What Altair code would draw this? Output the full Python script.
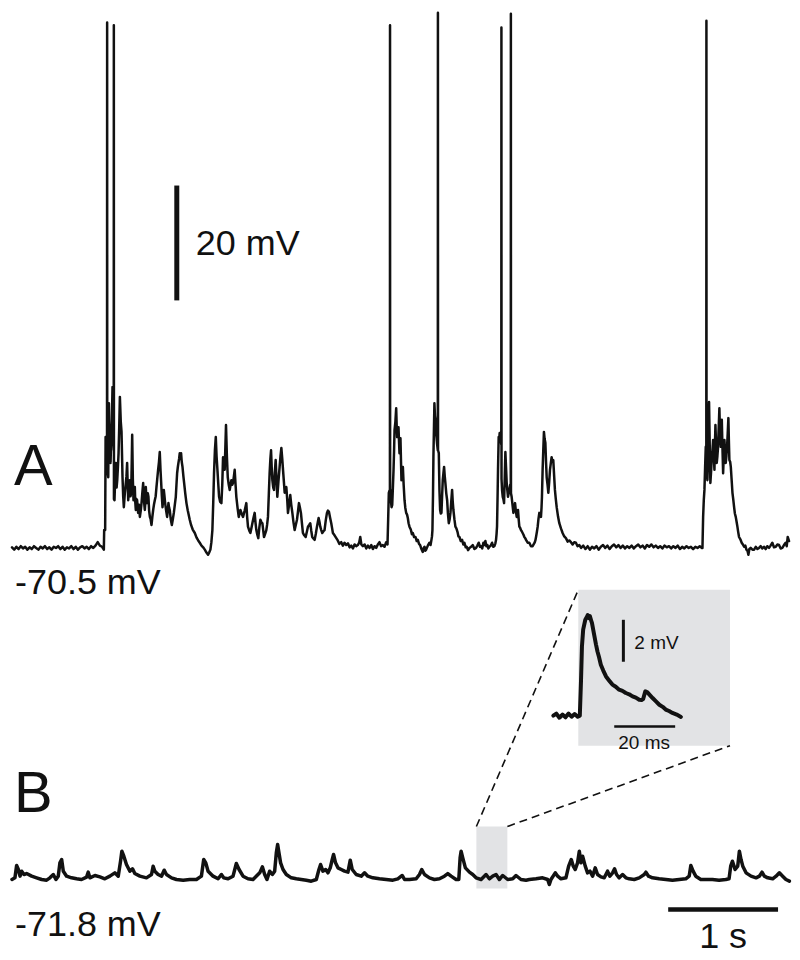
import altair as alt
import pandas as pd

W, H = 784, 944

# ---------------- data ----------------
# Trace A: time (s), deflection (mV) from the resting level (-70.5 mV)
A_REST_1 = [(0.00,0.1),(0.02,-0.3),(0.04,0.2),(0.06,-0.2),(0.08,0.3),(0.10,-0.1),(0.12,0.2),(0.14,-0.3),
            (0.16,0.1),(0.18,-0.2),(0.20,0.3),(0.22,0.0),(0.24,-0.3),(0.26,0.2),(0.28,-0.1),(0.30,0.3),
            (0.32,-0.2),(0.34,0.1),(0.36,-0.3),(0.38,0.2),(0.40,0.0),(0.42,0.3),(0.44,-0.2),(0.46,0.2),
            (0.48,-0.3),(0.50,0.1),(0.52,-0.1),(0.54,0.3),(0.56,-0.2),(0.58,0.2),(0.60,-0.3),(0.62,0.1),
            (0.64,0.3),(0.66,-0.1),(0.68,0.2),(0.70,-0.2),(0.72,0.3),(0.74,0.0),(0.76,0.4),(0.78,1.0),
            (0.80,0.4),(0.82,0.2)]
A_BURSTS_1 = [(0.836,-0.3),(0.839,3.1),(0.848,3.1),(0.852,19.3),(0.858,16.0),(0.861,17.0),(0.865,18.0),(0.866,91.5),
    (0.867,16.0),(0.872,13.0),(0.876,12.3),(0.882,25.2),(0.887,18.0),(0.891,16.5),(0.897,14.8),(0.903,19.0),
    (0.909,22.3),(0.915,28.0),(0.921,19.3),(0.926,17.0),(0.927,91.0),(0.928,8.5),(0.933,8.3),(0.939,12.0),
    (0.945,14.8),(0.952,10.5),(0.958,11.8),(0.964,14.0),(0.970,16.5),(0.976,21.0),(0.982,26.3),(0.990,22.0),
    (0.997,20.2),(1.006,12.3),(1.012,9.0),(1.018,7.1),(1.027,9.5),(1.036,11.3),(1.042,12.5),(1.048,14.8),
    (1.053,11.0),(1.058,8.3),(1.064,10.0),(1.073,11.8),(1.079,9.0),(1.085,9.6),(1.090,15.0),(1.094,19.7),
    (1.100,12.0),(1.106,8.3),(1.112,9.5),(1.118,10.6),(1.122,8.0),(1.127,6.6),(1.133,8.5),(1.139,8.3),
    (1.144,7.0),(1.148,6.1),(1.156,7.5),(1.164,5.4),(1.172,6.5),(1.179,7.8),(1.186,9.5),(1.194,11.3),
    (1.200,8.5),(1.209,6.6),(1.214,8.0),(1.218,10.6),(1.224,8.5),(1.230,7.8),(1.236,9.5),(1.242,8.9),
    (1.248,6.5),(1.255,5.4),(1.262,5.0),(1.270,4.0),(1.278,5.5),(1.285,6.6),(1.292,7.5),(1.300,8.3),
    (1.308,9.0),(1.315,10.6),(1.322,12.0),(1.330,13.6),(1.338,15.0),(1.345,16.7),(1.352,13.5),(1.358,11.3),
    (1.364,9.0),(1.370,7.1),(1.376,8.5),(1.382,10.1),(1.388,9.0),(1.394,7.8),(1.403,6.5),(1.412,5.4),
    (1.418,6.5),(1.424,7.8),(1.430,7.0),(1.436,6.6),(1.445,5.0),(1.455,4.0),(1.464,5.0),(1.473,6.1),
    (1.482,7.5),(1.491,8.9),(1.497,11.0),(1.503,13.0),(1.509,14.0),(1.515,14.8),(1.521,15.5),(1.527,16.5),
    (1.533,15.5),(1.539,16.5),(1.545,15.0),(1.552,14.1),(1.560,12.5),(1.567,11.3),(1.577,9.5),(1.588,7.8),
    (1.600,6.5),(1.618,4.9),(1.630,4.0),(1.645,3.2),(1.664,2.6),(1.680,1.8),(1.695,1.3),(1.709,0.9),
    (1.725,0.4),(1.740,0.1),(1.755,-0.3),(1.770,-0.8),(1.785,-1.2),(1.795,-0.8),(1.806,-0.3),(1.815,1.0),
    (1.824,3.1),(1.832,8.0),(1.839,13.0),(1.847,17.0),(1.855,19.3),(1.862,16.0),(1.870,13.6),(1.878,11.0),
    (1.885,8.9),(1.895,8.0),(1.906,7.8),(1.914,11.0),(1.921,15.8),(1.928,14.5),(1.936,13.6),(1.942,17.5),
    (1.948,21.4),(1.956,16.0),(1.964,12.3),(1.973,11.0),(1.982,10.1),(1.990,11.0),(1.997,11.8),(2.005,11.0),
    (2.012,11.3),(2.020,12.5),(2.027,13.6),(2.035,11.0),(2.042,8.9),(2.053,7.0),(2.064,5.4),(2.072,6.0),
    (2.079,6.6),(2.090,6.0),(2.103,5.4),(2.118,6.5),(2.133,7.8),(2.140,5.5),(2.148,3.7),(2.160,3.0),
    (2.170,2.6),(2.180,3.5),(2.188,4.3),(2.198,5.2),(2.209,6.1),(2.216,4.5),(2.224,3.1),(2.233,2.3),
    (2.242,1.7),(2.251,3.5),(2.261,4.9),(2.270,4.5),(2.279,4.3),(2.287,3.0),(2.294,1.9),(2.305,2.5),
    (2.315,3.1),(2.322,4.0),(2.330,5.4),(2.338,9.5),(2.345,13.0),(2.352,15.5),(2.358,17.0),(2.364,14.0),
    (2.370,11.8),(2.378,10.5),(2.385,10.1),(2.392,13.0),(2.400,15.3),(2.408,12.0),(2.415,8.9),(2.425,11.5),
    (2.436,14.1),(2.444,16.0),(2.452,17.4),(2.460,15.5),(2.467,13.6),(2.475,11.5),(2.482,9.6),(2.490,10.0),
    (2.497,10.6),(2.505,8.5),(2.512,6.1),(2.522,7.5),(2.533,9.2),(2.542,7.5),(2.552,6.1),(2.562,4.5),
    (2.573,3.1),(2.583,4.0),(2.594,4.9),(2.603,6.3),(2.612,7.8),(2.621,7.0),(2.630,6.1),(2.639,4.3),
    (2.648,2.6),(2.660,2.2),(2.673,1.9),(2.684,2.8),(2.694,3.7),(2.705,4.0),(2.715,4.3),(2.724,3.0),
    (2.733,1.9),(2.745,1.6),(2.755,1.4),(2.766,2.5),(2.776,3.7),(2.784,4.5),(2.791,5.2),(2.799,4.5),
    (2.806,3.7),(2.815,3.1),(2.824,2.6),(2.835,2.9),(2.845,3.1),(2.856,4.8),(2.867,6.1),(2.876,6.5),
    (2.885,6.3),(2.895,5.3),(2.906,4.3),(2.914,3.4),(2.921,2.6),(2.936,2.2),(2.952,1.7),(2.965,1.3),
    (2.980,0.7),(2.997,1.0),(3.012,0.4),(3.027,0.9),(3.042,0.5),(3.058,0.8),(3.073,0.1),(3.088,0.4),
    (3.103,-0.1),(3.118,0.6),(3.133,0.3),(3.148,0.5),(3.160,0.9),(3.170,1.9),(3.180,0.6),(3.194,0.3),
    (3.210,0.6),(3.225,-0.1),(3.240,0.4),(3.255,0.0),(3.270,0.5),(3.285,-0.2),(3.300,0.3),(3.315,0.0),
    (3.330,0.6),(3.345,1.0),(3.360,0.3),(3.376,0.5),(3.391,0.2),(3.406,1.0),(3.418,0.6)]
A_BURSTS_2 = [(3.424,4.9),(3.430,9.6),(3.436,10.0),(3.440,10.0),(3.441,91.0),(3.442,9.0),(3.445,10.1),(3.450,8.0),
    (3.455,7.1),(3.461,7.5),(3.467,10.5),(3.473,13.6),(3.478,17.0),(3.482,20.5),(3.490,22.0),(3.497,24.3),
    (3.502,21.0),(3.506,19.3),(3.512,20.0),(3.518,21.0),(3.523,18.5),(3.527,16.5),(3.532,18.0),(3.536,19.1),
    (3.541,15.0),(3.545,11.8),(3.552,13.0),(3.558,14.1),(3.565,11.0),(3.573,8.3),(3.580,7.0),(3.588,6.1),
    (3.596,5.8),(3.603,5.2),(3.610,4.3),(3.618,3.7),(3.630,3.2),(3.640,2.4),(3.648,2.6),(3.660,1.9),
    (3.673,1.9),(3.684,1.2),(3.694,1.4),(3.705,0.7),(3.715,0.5),(3.727,-0.2),(3.739,-0.7),(3.748,0.0),
    (3.755,0.2),(3.762,-0.5),(3.770,-0.3),(3.785,0.4),(3.800,0.9),(3.810,0.5),(3.818,1.4),(3.823,2.0),
    (3.827,3.1),(3.832,9.0),(3.836,15.8),(3.841,21.0),(3.845,25.2),(3.850,23.0),(3.855,22.3),(3.860,20.0),
    (3.864,19.3),(3.870,18.0),(3.876,17.0),(3.877,93.2),(3.878,17.0),(3.885,16.5),(3.891,10.0),(3.897,6.6),
    (3.903,6.0),(3.909,6.1),(3.915,9.0),(3.921,11.8),(3.927,13.0),(3.933,14.1),(3.939,12.5),(3.945,11.3),
    (3.953,9.5),(3.961,8.3),(3.968,6.0),(3.976,4.3),(3.984,5.0),(3.991,6.1),(3.998,8.0),(4.006,10.1),
    (4.012,8.0),(4.018,6.6),(4.027,5.0),(4.036,3.7),(4.045,3.4),(4.055,2.8),(4.064,2.0),(4.073,1.9),
    (4.085,1.2),(4.097,1.4),(4.108,0.6),(4.118,0.9),(4.130,0.1),(4.139,0.2),(4.152,-0.4),(4.164,0.0),
    (4.179,0.2),(4.194,0.5),(4.209,-0.2),(4.224,0.0),(4.236,0.4),(4.248,0.9),(4.260,0.2),(4.270,0.3),
    (4.280,-0.1),(4.291,0.9),(4.300,0.5),(4.309,1.2),(4.318,0.3),(4.327,0.5),(4.336,-0.1),(4.345,0.2),
    (4.358,0.4),(4.370,0.9),(4.380,0.2),(4.391,0.3),(4.400,0.8),(4.406,1.4),(4.411,2.5),(4.415,3.7),
    (4.420,9.0),(4.424,13.6),(4.430,19.3),(4.435,19.0),(4.439,20.0),(4.444,19.5),(4.448,18.8),(4.454,18.0),
    (4.455,90.6),(4.456,12.0),(4.461,10.0),(4.467,8.9),(4.473,8.5),(4.479,7.8),(4.485,12.0),(4.491,16.7),
    (4.497,14.0),(4.503,11.3),(4.509,10.0),(4.515,8.9),(4.521,9.5),(4.527,10.1),(4.535,11.0),(4.540,10.5),
    (4.541,93.0),(4.542,9.5),(4.548,8.9),(4.556,7.5),(4.564,6.1),(4.571,7.0),(4.579,7.8),(4.586,6.5),
    (4.594,5.4),(4.600,6.0),(4.606,6.6),(4.612,5.0),(4.618,3.7),(4.625,3.5),(4.633,3.1),(4.640,2.9),
    (4.648,2.6),(4.656,2.3),(4.664,1.9),(4.672,1.7),(4.679,1.4),(4.694,0.9),(4.709,0.9),(4.724,0.3),
    (4.739,0.3),(4.748,0.6),(4.757,0.9),(4.764,1.3),(4.770,1.9),(4.778,2.8),(4.785,3.7),(4.792,5.0),
    (4.800,6.1),(4.808,5.8),(4.815,5.4),(4.820,7.0),(4.824,8.9),(4.830,13.6),(4.836,17.0),(4.842,20.2),
    (4.848,19.0),(4.855,18.3),(4.861,15.0),(4.867,12.3),(4.875,11.0),(4.882,9.6),(4.890,11.5),(4.897,13.6),
    (4.905,14.8),(4.912,15.8),(4.920,15.0),(4.927,15.3),(4.935,12.5),(4.942,10.1),(4.950,8.5),(4.958,7.1),
    (4.970,5.5),(4.982,4.3),(4.997,3.4),(5.012,2.6),(5.027,2.0),(5.042,1.7),(5.058,1.1),(5.073,1.3),
    (5.088,1.0),(5.103,0.6),(5.118,1.0),(5.133,0.9),(5.148,0.3),(5.164,0.5)]
A_REST_2 = [(5.18,0.0),(5.20,0.4),(5.22,-0.2),(5.24,0.3),(5.26,-0.3),(5.28,0.2),(5.30,-0.1),(5.32,0.3),
            (5.34,-0.3),(5.36,0.2),(5.38,0.5),(5.40,0.0),(5.42,0.4),(5.44,-0.2),(5.46,0.3),(5.48,0.6),
            (5.50,0.1),(5.52,0.5),(5.54,0.0),(5.56,0.4),(5.58,-0.1),(5.60,0.3),(5.62,0.0),(5.64,0.4),
            (5.66,-0.1),(5.68,0.3),(5.70,0.6),(5.72,0.1),(5.74,0.4),(5.76,-0.1),(5.78,0.5),(5.80,0.2),
            (5.82,0.6),(5.84,0.1),(5.86,0.4),(5.88,0.0),(5.90,0.3),(5.92,-0.1),(5.94,0.4),(5.96,0.1),
            (5.98,0.3),(6.00,-0.1),(6.02,0.3),(6.04,0.0),(6.06,0.4),(6.08,-0.2),(6.10,0.2),(6.12,-0.1),
            (6.14,0.3),(6.16,0.0),(6.18,0.2),(6.20,-0.2),(6.22,0.2),(6.24,0.0),(6.26,0.3),(6.28,0.0)]
A_BURST_3 = [(6.285,0.0),(6.291,5.4),(6.297,8.3),(6.303,10.1),(6.309,14.0),(6.315,17.6),(6.320,17.0),(6.321,91.8),
    (6.322,14.0),(6.330,11.8),(6.339,17.6),(6.345,25.4),(6.351,18.0),(6.357,11.3),(6.364,13.5),(6.370,15.8),
    (6.376,17.0),(6.382,18.8),(6.388,16.0),(6.394,13.6),(6.398,17.5),(6.403,21.4),(6.409,18.0),(6.415,14.8),
    (6.421,16.0),(6.427,17.6),(6.433,21.0),(6.439,24.3),(6.445,20.0),(6.452,17.6),(6.456,20.0),(6.461,22.3),
    (6.467,17.5),(6.473,13.0),(6.479,16.0),(6.485,18.8),(6.491,16.5),(6.497,14.8),(6.503,16.0),(6.509,17.6),
    (6.515,20.0),(6.521,22.6),(6.525,19.0),(6.530,15.3),(6.537,15.0),(6.543,14.1),(6.550,12.0),(6.558,9.6),
    (6.565,8.5),(6.573,7.1),(6.580,6.0),(6.588,5.4),(6.596,4.5),(6.603,3.7),(6.610,2.8),(6.618,1.9),
    (6.630,1.5),(6.642,0.9),(6.653,0.6),(6.664,0.2),(6.675,0.4),(6.685,-0.3),(6.695,-0.5),(6.703,-1.2),
    (6.712,-0.2),(6.724,0.0),(6.740,-0.3),(6.755,-0.3),(6.770,0.2),(6.785,-0.2),(6.800,0.0),(6.815,0.3),
    (6.830,-0.1),(6.845,0.2),(6.860,-0.2),(6.875,0.3),(6.891,0.0),(6.905,0.4),(6.921,0.9),(6.936,0.1),
    (6.952,0.2),(6.967,0.6),(6.982,0.5),(6.997,-0.1),(7.012,0.0),(7.027,0.5),(7.042,0.9),(7.052,0.3),
    (7.061,1.9),(7.073,1.2)]

# Trace B: time (s), deflection (mV) from the resting level (-71.8 mV)
B_TRACE = [(0.000,0.0),(0.027,0.29),(0.042,2.44),(0.058,1.74),(0.073,0.58),(0.088,1.45),(0.109,0.87),(0.133,1.04),
    (0.179,0.58),(0.224,0.29),(0.270,0.0),(0.315,-0.12),(0.345,0.29),(0.376,0.87),(0.400,0.0),(0.421,0.58),
    (0.436,2.9),(0.452,3.48),(0.467,1.45),(0.497,0.58),(0.542,0.29),(0.588,0.12),(0.633,0.0),(0.679,0.41),
    (0.694,1.28),(0.709,0.29),(0.755,0.70),(0.800,0.46),(0.845,0.12),(0.891,0.58),(0.936,1.16),(0.967,0.58),
    (0.988,3.19),(1.000,4.93),(1.018,4.06),(1.042,2.61),(1.073,1.45),(1.097,1.86),(1.118,1.04),(1.164,0.58),
    (1.224,0.29),(1.270,0.87),(1.285,2.32),(1.300,1.45),(1.330,0.87),(1.361,0.58),(1.385,1.62),(1.406,0.87),
    (1.452,0.29),(1.497,0.0),(1.558,-0.12),(1.618,0.0),(1.679,0.0),(1.724,0.58),(1.745,3.48),(1.764,2.9),
    (1.785,1.45),(1.830,0.58),(1.876,0.12),(1.906,0.87),(1.927,0.29),(1.967,0.12),(2.012,0.58),(2.042,2.78),
    (2.067,1.74),(2.103,0.58),(2.148,0.12),(2.194,0.0),(2.255,1.16),(2.279,2.2),(2.300,0.87),(2.321,0.0),
    (2.345,1.45),(2.370,0.87),(2.391,1.45),(2.406,4.64),(2.418,6.09),(2.430,4.64),(2.445,2.9),(2.467,1.74),
    (2.497,0.87),(2.542,0.29),(2.588,0.12),(2.633,0.0),(2.679,-0.12),(2.724,-0.29),(2.770,0.0),(2.794,1.74),
    (2.809,2.61),(2.830,1.45),(2.855,1.74),(2.876,1.16),(2.897,2.03),(2.915,3.48),(2.927,4.35),(2.945,2.9),
    (2.967,2.03),(2.997,1.74),(3.027,1.45),(3.058,1.28),(3.079,3.36),(3.097,1.74),(3.133,0.87),(3.179,0.58),
    (3.209,1.16),(3.239,0.58),(3.285,0.29),(3.345,0.12),(3.406,0.0),(3.467,-0.12),(3.512,0.12),(3.552,0.70),
    (3.573,0.0),(3.618,0.0),(3.679,0.12),(3.709,0.87),(3.730,1.74),(3.755,0.87),(3.800,0.29),(3.845,0.0),
    (3.891,0.12),(3.936,0.58),(3.967,1.04),(3.997,0.58),(4.042,0.0),(4.067,0.0),(4.079,3.77),(4.088,4.93),
    (4.103,3.77),(4.127,2.03),(4.164,1.28),(4.194,0.87),(4.224,0.29),(4.270,0.0),(4.315,0.87),(4.345,0.12),
    (4.376,0.58),(4.406,0.87),(4.436,0.0),(4.467,0.70),(4.512,0.0),(4.558,0.12),(4.588,0.70),(4.633,0.0),
    (4.679,-0.12),(4.709,0.0),(4.770,0.12),(4.830,0.29),(4.876,0.0),(4.891,-0.87),(4.906,0.0),(4.945,1.16),
    (4.967,0.58),(4.997,0.12),(5.042,0.29),(5.067,2.32),(5.091,3.48),(5.109,2.32),(5.127,1.74),(5.148,2.9),
    (5.164,4.93),(5.179,2.9),(5.194,4.06),(5.218,2.32),(5.239,1.16),(5.261,1.45),(5.285,0.58),(5.309,2.03),
    (5.330,0.87),(5.361,0.46),(5.391,0.29),(5.421,1.45),(5.442,0.58),(5.467,1.16),(5.485,1.86),(5.503,0.87),
    (5.527,0.29),(5.558,0.87),(5.588,0.29),(5.618,0.12),(5.664,0.0),(5.709,0.29),(5.755,0.87),(5.770,1.28),
    (5.794,0.58),(5.830,0.29),(5.891,0.12),(5.952,0.0),(6.012,-0.12),(6.073,0.0),(6.133,0.12),(6.164,0.58),
    (6.179,2.44),(6.200,1.45),(6.224,0.58),(6.270,0.0),(6.315,0.0),(6.376,0.0),(6.436,-0.12),(6.497,0.0),
    (6.527,0.12),(6.542,2.32),(6.558,3.19),(6.582,1.74),(6.606,2.32),(6.621,4.93),(6.636,3.48),(6.652,2.32),
    (6.682,1.16),(6.727,0.58),(6.773,0.29),(6.803,0.58),(6.827,1.28),(6.848,0.58),(6.879,0.29),(6.924,0.12),
    (6.955,0.58),(6.985,1.16),(7.015,0.58),(7.045,0.0),(7.076,-0.29)]

# Inset: one event, time (ms), deflection (mV)
INSET = [(0.0,0.0),(1.0,0.1),(2.0,-0.1),(3.0,0.05),(4.0,-0.08),(5.0,0.1),(6.0,-0.05),(7.0,0.08),(8.0,-0.05),
         (8.7,0.0),(9.1,1.7),(9.4,3.3),(9.8,4.1),(10.5,4.57),(11.0,4.7),(11.3,4.8),(11.7,4.65),(12.0,4.75),
         (12.4,4.55),(12.7,4.41),(13.4,3.86),(14.0,3.4),(14.5,3.06),(15.0,2.8),(15.6,2.43),(16.4,2.15),
         (17.3,1.87),(18.3,1.68),(19.4,1.48),(20.5,1.38),(21.6,1.24),(22.7,1.18),(23.8,1.08),(24.9,1.02),
         (26.0,0.92),(27.1,0.86),(28.2,0.76),(29.0,0.75),(29.5,0.79),(30.2,1.16),(30.9,1.11),(31.7,0.98),
         (32.6,0.84),(33.7,0.68),(34.8,0.52),(35.9,0.42),(36.9,0.29),(38.0,0.22),(39.1,0.13),(40.5,0.05),
         (41.9,-0.06)]

ZOOM_BOX_B = {"t0": 4.227, "t1": 4.509, "v0": -1.57, "v1": 9.22}      # s, mV (trace B)
INSET_BOX = {"t0": 8.2, "t1": 58.0, "v0": -1.43, "v1": 6.0}           # ms, mV (inset)

BAR_20MV = {"t": 1.5, "v0": 43.1, "v1": 63.1}          # trace A units
BAR_1S = {"t0": 5.973, "t1": 6.973, "v": -5.22}        # trace B units
BAR_2MV = {"t": 23.0, "v0": 2.57, "v1": 4.57}          # inset units
BAR_20MS = {"t0": 20.0, "t1": 40.0, "v": -0.52}        # inset units

# ---------------- scales ----------------
XA = [-0.0364, 7.0909]
YA = [-70.26, 93.91]
YB = [-12.52, 151.65]
XI = [-179.02, 78.03]
YI = [-11.24, 33.71]

FONT = "Liberation Sans"
INK = "#111111"
BOXC = "#e2e3e5"


def sx(dom):
    return alt.Scale(domain=dom, nice=False, zero=False)


def xpx(v, dom):
    return (v - dom[0]) / (dom[1] - dom[0]) * W


def ypx(v, dom):
    return (dom[1] - v) / (dom[1] - dom[0]) * H


def x_from_px(p, dom):
    return dom[0] + p / W * (dom[1] - dom[0])


def y_from_px(p, dom):
    return dom[1] - p / H * (dom[1] - dom[0])


def trace_df(points):
    return pd.DataFrame({"i": range(len(points)), "t": [p[0] for p in points], "v": [p[1] for p in points]})


a_points = A_REST_1 + A_BURSTS_1 + A_BURSTS_2 + A_REST_2 + A_BURST_3
dfA = trace_df(a_points)
dfB = trace_df(B_TRACE)
dfI = trace_df(INSET)


def line_layer(df, xd, yd, width):
    return alt.Chart(df).mark_line(color=INK, strokeWidth=width, strokeJoin="round", strokeCap="round").encode(
        x=alt.X("t:Q", scale=sx(xd), axis=None),
        y=alt.Y("v:Q", scale=sx(yd), axis=None),
        order="i:Q",
    )


def rect_layer(box, xd, yd):
    return alt.Chart(pd.DataFrame([box])).mark_rect(color=BOXC).encode(
        x=alt.X("t0:Q", scale=sx(xd), axis=None), x2="t1:Q",
        y=alt.Y("v0:Q", scale=sx(yd), axis=None), y2="v1:Q",
    )


def vbar(bar, xd, yd, width):
    return alt.Chart(pd.DataFrame([bar])).mark_rule(color=INK, strokeWidth=width).encode(
        x=alt.X("t:Q", scale=sx(xd), axis=None),
        y=alt.Y("v0:Q", scale=sx(yd), axis=None), y2="v1:Q",
    )


def hbar(bar, xd, yd, width):
    return alt.Chart(pd.DataFrame([bar])).mark_rule(color=INK, strokeWidth=width).encode(
        x=alt.X("t0:Q", scale=sx(xd), axis=None), x2="t1:Q",
        y=alt.Y("v:Q", scale=sx(yd), axis=None),
    )


def text_layer(label, t, v, xd, yd, size, align="left", baseline="alphabetic"):
    return alt.Chart(pd.DataFrame([{"t": t, "v": v, "s": label}])).mark_text(
        font=FONT, fontSize=size, color=INK, align=align, baseline=baseline
    ).encode(
        x=alt.X("t:Q", scale=sx(xd), axis=None),
        y=alt.Y("v:Q", scale=sx(yd), axis=None),
        text="s:N",
    )


# dashed connectors: zoom box corners (trace B units) -> inset box corners (inset units)
def b_to_inset(t, v):
    return x_from_px(xpx(t, XA), XI), y_from_px(ypx(v, YB), YI)


p1 = b_to_inset(ZOOM_BOX_B["t0"], ZOOM_BOX_B["v1"])
p2 = b_to_inset(ZOOM_BOX_B["t1"], ZOOM_BOX_B["v1"])
dash_df = pd.DataFrame([
    {"t": p1[0], "v": p1[1], "t2": INSET_BOX["t0"], "v2": INSET_BOX["v1"]},
    {"t": p2[0], "v": p2[1], "t2": INSET_BOX["t1"], "v2": INSET_BOX["v0"]},
])
dashes = alt.Chart(dash_df).mark_rule(color=INK, strokeWidth=1.6, strokeDash=[8, 5]).encode(
    x=alt.X("t:Q", scale=sx(XI), axis=None), x2="t2:Q",
    y=alt.Y("v:Q", scale=sx(YI), axis=None), y2="v2:Q",
)

layers = [
    rect_layer(ZOOM_BOX_B, XA, YB),
    rect_layer(INSET_BOX, XI, YI),
    dashes,
    line_layer(dfA, XA, YA, 2.5),
    line_layer(dfB, XA, YB, 3.5),
    line_layer(dfI, XI, YI, 4.0),
    vbar(BAR_20MV, XA, YA, 5),
    hbar(BAR_1S, XA, YB, 4.5),
    vbar(BAR_2MV, XI, YI, 3),
    hbar(BAR_20MS, XI, YI, 2.5),
    text_layer("A", 0.018, 10.96, XA, YA, 58),
    text_layer("-70.5 mV", 0.027, -8.0, XA, YA, 36),
    text_layer("20 mV", 1.673, 52.9, XA, YA, 36, baseline="middle"),
    text_layer("B", 0.018, 11.8, XA, YB, 58),
    text_layer("-71.8 mV", 0.027, -9.8, XA, YB, 36),
    text_layer("1 s", 6.473, -11.9, XA, YB, 36, align="center"),
    text_layer("2 mV", 26.6, 3.48, XI, YI, 19, baseline="middle"),
    text_layer("20 ms", 29.8, -1.29, XI, YI, 19, align="center", baseline="middle"),
]

chart = alt.layer(*layers).resolve_scale(x="independent", y="independent").properties(
    width=W, height=H, padding=0
).configure_view(strokeWidth=0)

chart.save("out.html", embed_options={"renderer": "svg", "actions": False})
